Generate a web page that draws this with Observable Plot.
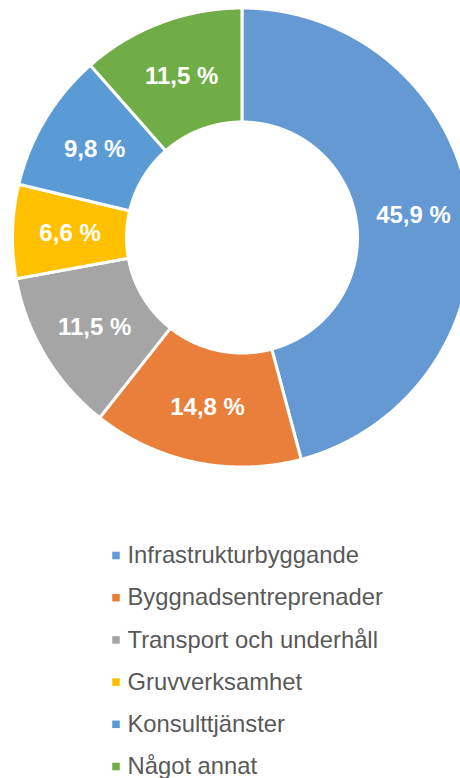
<!DOCTYPE html>
<html>
<head>
<meta charset="utf-8">
<script src="https://cdn.jsdelivr.net/npm/d3@7"></script>
<script src="https://cdn.jsdelivr.net/npm/@observablehq/plot@0.6"></script>
<style>
  html, body { margin: 0; padding: 0; background: #fff; }
  #chart svg { display: block; }
</style>
</head>
<body>
<div id="chart"></div>
<script>
const categories = ["Infrastrukturbyggande", "Byggnadsentreprenader", "Transport och underhåll", "Gruvverksamhet", "Konsulttjänster", "Något annat"];
const values = [45.9, 14.8, 11.5, 6.6, 9.8, 11.5];
const labels = ["45,9 %", "14,8 %", "11,5 %", "6,6 %", "9,8 %", "11,5 %"];
const colors = ["#6499D3", "#E97F3B", "#A5A5A5", "#FFC000", "#5B9BD5", "#70AD47"];

const W = 460, H = 778;
const cx = 242, cy = 237.5, rOuter = 229.5, rInner = 115.5;
const font = "'Liberation Sans', Arial, Helvetica, sans-serif";

const arcs = d3.pie().sort(null).value(d => d)(values);
const rows = [];
arcs.forEach((a, i) => {
  const n = Math.max(8, Math.ceil((a.endAngle - a.startAngle) / 0.005));
  for (let k = 0; k <= n; k++) {
    const t = a.startAngle + (a.endAngle - a.startAngle) * k / n;
    rows.push({
      cat: categories[i],
      x1: cx + rInner * Math.sin(t), y1: cy - rInner * Math.cos(t),
      x2: cx + rOuter * Math.sin(t), y2: cy - rOuter * Math.cos(t)
    });
  }
});
const rMid = (rOuter + rInner) / 2;
const labelRows = arcs.map((a, i) => {
  const m = (a.startAngle + a.endAngle) / 2;
  return { label: labels[i], x: cx + rMid * Math.sin(m), y: cy - rMid * Math.cos(m) };
});
const legendRows = categories.map((c, i) => ({ cat: c, x: 115.5, tx: 127, y: 555 + i * 42.2 }));

const chart = Plot.plot({
  width: W, height: H,
  margin: 0,
  x: { domain: [0, W], range: [0, W], axis: null },
  y: { domain: [0, H], range: [0, H], axis: null },
  color: { domain: categories, range: colors },
  style: { fontFamily: font, background: "#fff" },
  marks: [
    Plot.area(rows, { x1: "x1", y1: "y1", x2: "x2", y2: "y2", z: "cat", fill: "cat", stroke: "white", strokeWidth: 3, strokeLinejoin: "miter" }),
    Plot.text(labelRows, { x: "x", y: "y", text: "label", fill: "white", fontWeight: "bold", fontSize: 24, fontFamily: font }),
    Plot.dot(legendRows, { x: "x", y: "y", fill: "cat", symbol: "square", r: 4.25 }),
    Plot.text(legendRows, { x: "tx", y: "y", text: "cat", textAnchor: "start", fill: "#595959", fontSize: 23.8, fontFamily: font })
  ]
});
document.getElementById("chart").appendChild(chart);
</script>
</body>
</html>
